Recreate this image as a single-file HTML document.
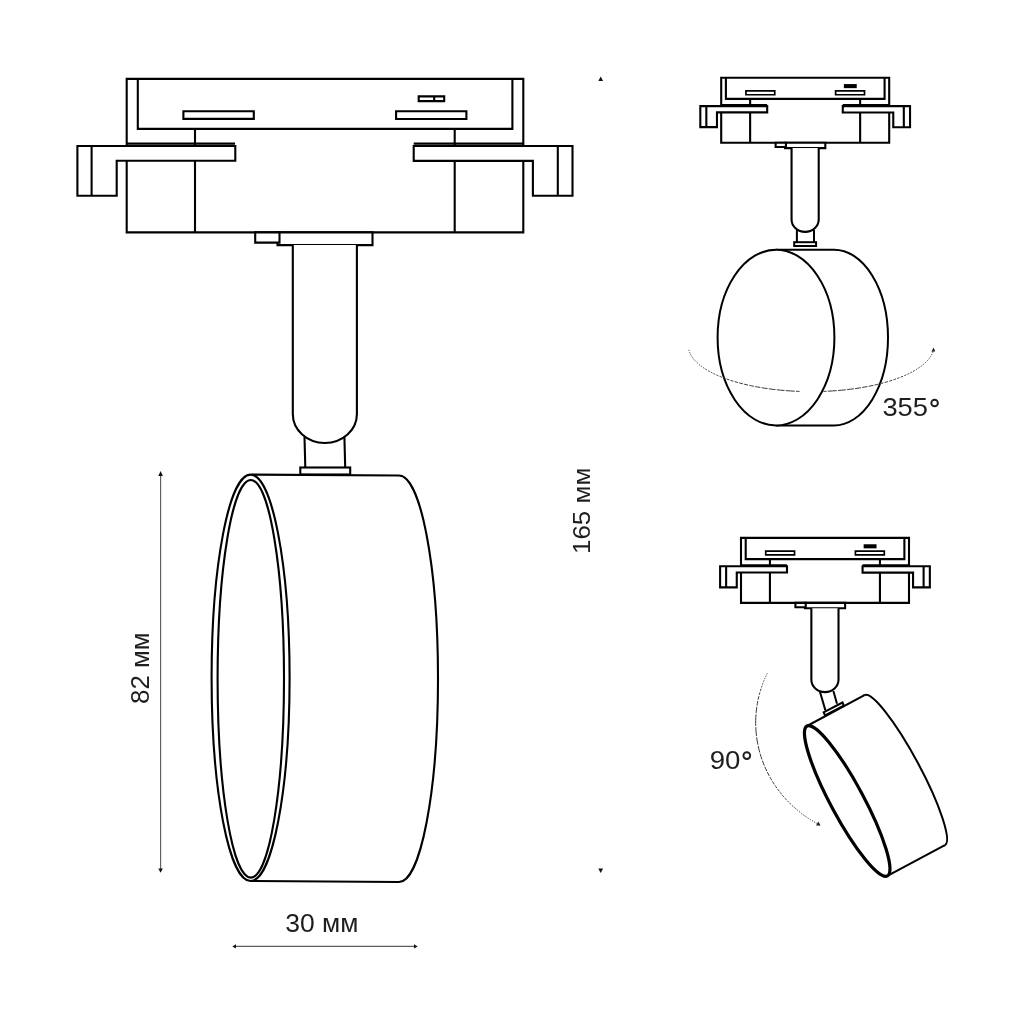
<!DOCTYPE html>
<html><head><meta charset="utf-8">
<style>
html,body{margin:0;padding:0;background:#fff;width:1024px;height:1024px;overflow:hidden}
svg{display:block;filter:grayscale(1)}
text{font-family:"Liberation Sans",sans-serif;fill:#1e1e1e}
</style></head>
<body>
<svg width="1024" height="1024" viewBox="0 0 1024 1024">


<!-- ===== BIG VIEW ===== -->
<g transform="translate(0 0.4)">
<g fill="#fff" stroke="#000" stroke-width="2.1" stroke-linejoin="miter">
  <!-- upper body -->
  <rect x="126.7" y="78.5" width="396.6" height="153.5" vector-effect="non-scaling-stroke"/>
  <path d="M137.8 78.5 V128.5 H512.4 V78.5" fill="none" vector-effect="non-scaling-stroke"/>
  <path d="M195 128.5 V232 M454.7 128.5 V232" fill="none" vector-effect="non-scaling-stroke"/>
  <path d="M126.7 143.2 H235 M413.7 143.2 H523.3" fill="none" vector-effect="non-scaling-stroke"/>
  <rect x="183.4" y="110.9" width="70.4" height="7.6" vector-effect="non-scaling-stroke"/>
  <rect x="396.1" y="110.8" width="70.3" height="7.8" vector-effect="non-scaling-stroke"/>
  <rect x="418.7" y="96" width="25.5" height="4.7" vector-effect="non-scaling-stroke"/>
  <path d="M434.2 96 V100.7" vector-effect="non-scaling-stroke"/>
  <!-- flanges -->
  <path d="M77.4 145.6 H235.3 V160.3 H116.7 V195.3 H77.4 Z" vector-effect="non-scaling-stroke"/>
  <path d="M91.6 145.6 V195.3" vector-effect="non-scaling-stroke"/>
  <path d="M413.7 145.6 H572.5 V195.4 H532.9 V160.5 H413.7 Z" vector-effect="non-scaling-stroke"/>
  <path d="M557.8 145.6 V195.4" vector-effect="non-scaling-stroke"/>
  <!-- tabs -->
  <rect x="277.5" y="232" width="95" height="12.7" vector-effect="non-scaling-stroke"/>
  <rect x="255.2" y="232" width="24.3" height="10.2" vector-effect="non-scaling-stroke"/>
</g>
<g fill="#fff" stroke="#000" stroke-width="2.1">
  <path d="M292.8 244.7 V413.6 A32.05 29 0 0 0 356.9 413.6 V244.7" vector-effect="non-scaling-stroke"/>
</g>
</g>
<g fill="#fff" stroke="#000" stroke-width="2.1">
  <path d="M304.5 437 L305.3 467.5 M344.4 437 L345.2 467.5" fill="none"/>
  <rect x="300.3" y="467.5" width="49.9" height="7"/>
  <!-- cylinder body -->
  <path d="M251.4 474.6 L399 475.5 A39 203.25 0 0 1 399 882 L250.6 881" />
  <ellipse cx="250.6" cy="677.8" rx="39" ry="203.2"/>
  <ellipse cx="250.8" cy="678.8" rx="33.2" ry="198.8"/>
</g>

<!-- dimension lines -->
<g stroke="#5e5e5e" stroke-width="1.15" fill="none">
  <path d="M160.6 475 V869"/>
  <path d="M235 946.4 H414"/>
</g>
<g fill="#111">
  <path d="M160.6 471 L158.3 475.9 L162.9 475.9 Z"/>
  <path d="M160.6 872.8 L158.3 868.4 L162.9 868.4 Z"/>
  <path d="M232.3 946.4 L236 944.2 L236 948.6 Z"/>
  <path d="M417.7 946.4 L414 944.2 L414 948.6 Z"/>
  <path d="M600.7 76.6 L598.3 80.9 L603.1 80.9 Z"/>
  <path d="M600.7 873 L598.3 868.5 L603.1 868.5 Z"/>
</g>
<text font-size="25" transform="translate(149.20 704.04) rotate(-90) scale(1.0388 1.0)">82 мм</text>
<text font-size="25" transform="translate(590.10 554.08) rotate(-90) scale(1.0405 0.985)">165 мм</text>
<text font-size="25" transform="translate(285.24 932.20) scale(1.0597 1.012)">30 мм</text>

<!-- ===== VIEW 2 (355) ===== -->
<g transform="translate(721.2 77.7) scale(0.4236 0.4235) translate(-126.7 -78.5)">
  <g fill="#fff" stroke="#000" stroke-width="2.1" stroke-linejoin="miter">
  <!-- upper body -->
  <rect x="126.7" y="78.5" width="396.6" height="153.5" vector-effect="non-scaling-stroke"/>
  <path d="M137.8 78.5 V128.5 H512.4 V78.5" fill="none" vector-effect="non-scaling-stroke"/>
  <path d="M195 128.5 V232 M454.7 128.5 V232" fill="none" vector-effect="non-scaling-stroke"/>
  <path d="M126.7 143.2 H235 M413.7 143.2 H523.3" fill="none" vector-effect="non-scaling-stroke"/>
  <rect x="185.1" y="109.6" width="68" height="9.2" stroke-width="1.7" vector-effect="non-scaling-stroke"/>
  <rect x="396.8" y="109.6" width="68.2" height="9.2" stroke-width="1.7" vector-effect="non-scaling-stroke"/>
  <rect x="418.7" y="96" width="25.5" height="4.7" vector-effect="non-scaling-stroke"/>
  <path d="M434.2 96 V100.7" vector-effect="non-scaling-stroke"/>
  <!-- flanges -->
  <path d="M77.4 145.6 H235.3 V160.3 H116.7 V195.3 H77.4 Z" vector-effect="non-scaling-stroke"/>
  <path d="M91.6 145.6 V195.3" vector-effect="non-scaling-stroke"/>
  <path d="M413.7 145.6 H572.5 V195.4 H532.9 V160.5 H413.7 Z" vector-effect="non-scaling-stroke"/>
  <path d="M557.8 145.6 V195.4" vector-effect="non-scaling-stroke"/>
  <!-- tabs -->
  <rect x="277.5" y="232" width="95" height="12.7" vector-effect="non-scaling-stroke"/>
  <rect x="255.2" y="232" width="24.3" height="10.2" vector-effect="non-scaling-stroke"/>
</g>
  <g fill="#fff" stroke="#000" stroke-width="2.1">
  <path d="M292.8 244.7 V413.6 A32.05 29 0 0 0 356.9 413.6 V244.7" vector-effect="non-scaling-stroke"/>
</g>
</g>
<g fill="#fff" stroke="#000" stroke-width="2">
  <path d="M796.9 229.9 V242.2 M814 229.9 V242.2" fill="none"/>
  <rect x="794.2" y="242.2" width="21.9" height="3.8"/>
  <path d="M776 249.8 H834 A54 87.8 0 0 1 834 425.4 H776"/>
  <ellipse cx="776" cy="337.6" rx="58.4" ry="87.8"/>
</g>
<g stroke="#3a3a3a" stroke-width="1" fill="none">
  <path d="M688.9 349.8 A122.8 45.8 0 0 0 799.5 391.4" stroke-dasharray="1.20 1.30 1.20 1.30 1.22 1.30 1.24 1.30 1.26 1.30 1.30 1.30 1.35 1.30 1.40 1.30 1.47 1.30 1.55 1.30 1.64 1.30 1.74 1.30 1.86 1.30 2.00 1.30 2.16 1.30 2.34 1.30 2.54 1.30 2.78 1.30 3.05 1.30 3.36 1.30 3.72 1.30 4.14 1.30 4.63 1.30 5.20 1.30 5.89 1.30 6.71 1.30 7.70 1.30 8.92 1.30 10.42 1.30"/>
  <path d="M933.6 349.5 A122.8 45.8 0 0 1 823.4 391.4" stroke-dasharray="1.20 1.30 1.20 1.30 1.22 1.30 1.24 1.30 1.27 1.30 1.30 1.30 1.35 1.30 1.41 1.30 1.47 1.30 1.55 1.30 1.64 1.30 1.75 1.30 1.87 1.30 2.00 1.30 2.16 1.30 2.34 1.30 2.55 1.30 2.78 1.30 3.05 1.30 3.37 1.30 3.73 1.30 4.15 1.30 4.64 1.30 5.22 1.30 5.92 1.30 6.74 1.30 7.75 1.30 8.97 1.30 10.49 1.30"/>
</g>
<path d="M933.6 347.6 L931.4 351.8 L935.2 351.6 Z" fill="#222"/>
<text font-size="25" transform="translate(882.41 416.20) scale(1.0925 0.995)">355</text>
<circle cx="934.6" cy="403" r="3.3" fill="none" stroke="#1e1e1e" stroke-width="1.9"/>

<!-- ===== VIEW 3 (90) ===== -->
<g transform="translate(741 537.9) scale(0.4236 0.4235) translate(-126.7 -78.5)">
  <g fill="#fff" stroke="#000" stroke-width="2.1" stroke-linejoin="miter">
  <!-- upper body -->
  <rect x="126.7" y="78.5" width="396.6" height="153.5" vector-effect="non-scaling-stroke"/>
  <path d="M137.8 78.5 V128.5 H512.4 V78.5" fill="none" vector-effect="non-scaling-stroke"/>
  <path d="M195 128.5 V232 M454.7 128.5 V232" fill="none" vector-effect="non-scaling-stroke"/>
  <path d="M126.7 143.2 H235 M413.7 143.2 H523.3" fill="none" vector-effect="non-scaling-stroke"/>
  <rect x="185.1" y="109.6" width="68" height="9.2" stroke-width="1.7" vector-effect="non-scaling-stroke"/>
  <rect x="396.8" y="109.6" width="68.2" height="9.2" stroke-width="1.7" vector-effect="non-scaling-stroke"/>
  <rect x="418.7" y="96" width="25.5" height="4.7" vector-effect="non-scaling-stroke"/>
  <path d="M434.2 96 V100.7" vector-effect="non-scaling-stroke"/>
  <!-- flanges -->
  <path d="M77.4 145.6 H235.3 V160.3 H116.7 V195.3 H77.4 Z" vector-effect="non-scaling-stroke"/>
  <path d="M91.6 145.6 V195.3" vector-effect="non-scaling-stroke"/>
  <path d="M413.7 145.6 H572.5 V195.4 H532.9 V160.5 H413.7 Z" vector-effect="non-scaling-stroke"/>
  <path d="M557.8 145.6 V195.4" vector-effect="non-scaling-stroke"/>
  <!-- tabs -->
  <rect x="277.5" y="232" width="95" height="12.7" vector-effect="non-scaling-stroke"/>
  <rect x="255.2" y="232" width="24.3" height="10.2" vector-effect="non-scaling-stroke"/>
</g>
  <g fill="#fff" stroke="#000" stroke-width="2.1">
  <path d="M292.8 244.7 V413.6 A32.05 29 0 0 0 356.9 413.6 V244.7" vector-effect="non-scaling-stroke"/>
</g>
</g>
<g fill="#fff" stroke="#000" stroke-width="2">
  <path d="M819.9 691.5 L825.4 710.4 M833.4 690.9 L837 703.7" fill="none"/>
  <path d="M823.6 712.3 L842.5 702.5 L843.8 705.6 L825 715.3 Z"/>
  <ellipse cx="904.70" cy="770.15" rx="15" ry="85.05" transform="rotate(-28.21 904.70 770.15)"/>
  <path d="M807 726 L864.50 695.20 L944.90 845.10 L887.4 875.9 Z" stroke="none"/>
  <path d="M807 726 L864.50 695.20 M944.90 845.10 L887.4 875.9" fill="none"/>
  <ellipse cx="847.20" cy="800.95" rx="16.5" ry="85.05" transform="rotate(-28.21 847.20 800.95)" stroke-width="3.2"/>
</g>
<g stroke="#3a3a3a" stroke-width="1" fill="none">
  <path d="M767.2 673.4 A123.1 116.6 0 0 0 755.7 720.7" stroke-dasharray="1.20 1.30 1.23 1.30 1.30 1.30 1.44 1.30 1.64 1.30 1.92 1.30 2.31 1.30 2.85 1.30 3.60 1.30 4.67 1.30 6.24 1.30 8.63 1.30"/>
  <path d="M819.6 824.9 A123.1 116.6 0 0 1 755.7 720.7" stroke-dasharray="1.20 1.30 1.20 1.30 1.21 1.30 1.23 1.30 1.26 1.30 1.29 1.30 1.34 1.30 1.39 1.30 1.45 1.30 1.52 1.30 1.60 1.30 1.70 1.30 1.80 1.30 1.93 1.30 2.07 1.30 2.23 1.30 2.41 1.30 2.61 1.30 2.85 1.30 3.12 1.30 3.43 1.30 3.78 1.30 4.20 1.30 4.68 1.30 5.24 1.30 5.90 1.30 6.69 1.30 7.64 1.30 8.79 1.30 10.20 1.30"/>
</g>
<path d="M820.5 825.6 L816 825.4 L818.4 821.6 Z" fill="#222"/>
<text font-size="25" transform="translate(709.70 769.20) scale(1.1038 1.02)">90</text>
<circle cx="746.8" cy="755.6" r="3.4" fill="none" stroke="#1e1e1e" stroke-width="1.9"/>
</svg>
</body></html>
